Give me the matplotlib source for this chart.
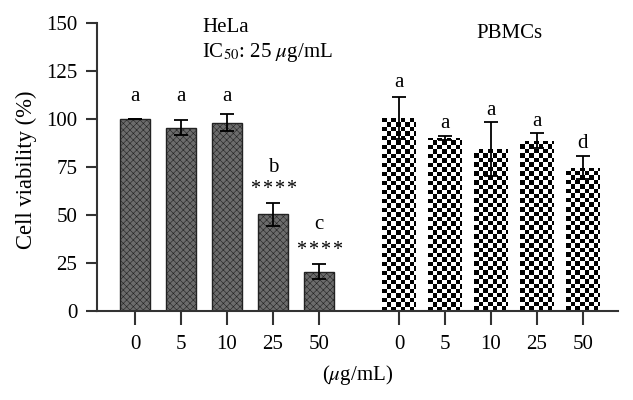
import numpy as np
import matplotlib
matplotlib.use("Agg")
import matplotlib.pyplot as plt

plt.rcParams['font.family'] = ['Liberation Serif', 'DejaVu Serif']
plt.rcParams['mathtext.fontset'] = 'stix'
plt.rcParams['hatch.linewidth'] = 0.4

doses = ["0", "5", "10", "25", "50"]
hela_vals = [100, 95.5, 98, 50.5, 20.5]
hela_err = [0, 4, 4.5, 6, 4]
pbmc_vals = [100.5, 90, 84.5, 88.7, 74.5]
pbmc_err = [11, 1, 14, 4, 6]
hela_letters = ["a", "a", "a", "b", "c"]
hela_letter_y = [111.5, 111.5, 111.5, 75, 44.8]
hela_stars = [0, 0, 0, 4, 4]
hela_star_y = [0, 0, 0, 63.5, 31.5]
pbmc_letters = ["a", "a", "a", "a", "d"]
pbmc_letter_y = [119, 97.5, 104.5, 98.5, 87.5]

fig = plt.figure(figsize=(6.33, 4.0), dpi=100)
ax = fig.add_axes([0.153, 0.2225, 0.823, 0.72])

xh = np.arange(5)
xp = np.arange(5) + 5.74
wh = 0.65
wp = 0.72

ax.bar(xh, hela_vals, width=wh, color='#6c6c6c', edgecolor='#222222',
       linewidth=1.0, hatch='xxxxx', zorder=2)
ax.errorbar(xh, hela_vals, yerr=hela_err, fmt='none', ecolor='black',
            elinewidth=1.3, capsize=5, capthick=1.3, zorder=4)

bars = ax.bar(xp, pbmc_vals, width=wp, color='none', edgecolor='none', zorder=2)
# checkerboard texture clipped to each bar
sq_x = 0.098
sq_y = 2.34
for b in bars:
    x0 = b.get_x()
    h = b.get_height()
    nx = int(np.ceil(wp / sq_x)) + 1
    ny = int(np.ceil(h / sq_y)) + 1
    ii, jj = np.meshgrid(np.arange(nx), np.arange(ny))
    img = ((ii + jj) % 2).astype(float)
    im = ax.imshow(img, cmap='gray', vmin=0, vmax=1, interpolation='nearest',
                   extent=[x0, x0 + nx * sq_x, 0, ny * sq_y], origin='lower',
                   aspect='auto', zorder=2)
    im.set_clip_path(b)
ax.errorbar(xp, pbmc_vals, yerr=pbmc_err, fmt='none', ecolor='black',
            elinewidth=1.3, capsize=5, capthick=1.3, zorder=4)

fs = 15
for x, l, y in zip(xh, hela_letters, hela_letter_y):
    ax.text(x, y, l, ha='center', va='center', fontsize=fs)
star_step = 8.8  # points between asterisks
for x, n, y in zip(xh, hela_stars, hela_star_y):
    for k in range(n):
        off = (k - (n - 1) / 2) * star_step
        ax.annotate('*', (x, y), xytext=(off, 0), textcoords='offset points',
                    ha='center', va='center', fontsize=14.5)
for x, l, y in zip(xp, pbmc_letters, pbmc_letter_y):
    ax.text(x, y, l, ha='center', va='center', fontsize=fs)

ax.set_xlim(-0.83, 10.5)
ax.set_ylim(0, 150)
ax.set_yticks([0, 25, 50, 75, 100, 125, 150])
ax.set_xticks(list(xh) + list(xp))
ax.set_xticklabels(doses + doses)
for s in ['top', 'right']:
    ax.spines[s].set_visible(False)
for s in ['left', 'bottom']:
    ax.spines[s].set_linewidth(1.5)
    ax.spines[s].set_color('#333333')
ax.tick_params(axis='y', length=8, width=1.5, color='#333333', labelsize=fs, pad=6)
ax.tick_params(axis='x', length=10, width=1.5, color='#333333', labelsize=fs, pad=7)

ax.set_ylabel('Cell viability (%)', fontsize=16.3, va='center')
ax.yaxis.set_label_coords(-0.136, 0.49)
fig.text(358 / 633, 1 - 375 / 400, r'($\mu$g/mL)', ha='center', va='center', fontsize=fs)
fig.text(202 / 633, 1 - 27 / 400, 'HeLa', ha='left', va='center', fontsize=fs)
fig.text(202 / 633, 1 - 52 / 400, r'IC$_{50}$: 25 $\mu$g/mL', ha='left', va='center', fontsize=fs)
fig.text(509 / 633, 1 - 33 / 400, 'PBMCs', ha='center', va='center', fontsize=fs)

fig.savefig('out.png', dpi=100)
